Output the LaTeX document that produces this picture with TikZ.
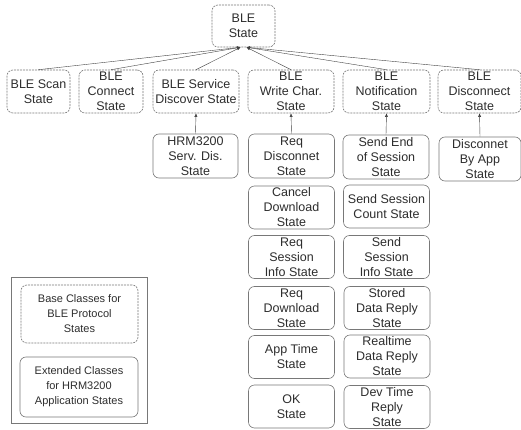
\documentclass[tikz,border=0pt]{standalone}
\usepackage{fontspec}
\setmainfont{Liberation Sans}
\usetikzlibrary{arrows.meta}
\definecolor{boxgray}{RGB}{120,120,120}
\definecolor{txtgray}{RGB}{45,45,45}
\tikzset{every node/.style={align=center, text=txtgray, inner sep=0pt, font=\fontsize{12.5}{15}\selectfont},
  base/.style={draw=boxgray, line width=0.6pt, dash pattern=on 2pt off 1pt, rounded corners=6pt},
  ext/.style={draw=boxgray, line width=0.6pt, rounded corners=6pt},
  inh/.style={draw=black!75, -{Latex[length=3.5pt,width=3pt]}}}

\begin{document}
\begin{tikzpicture}[x=1pt,y=-1pt]
  \useasboundingbox (0,0) rectangle (521,430);
  \node[base, minimum width=63pt, minimum height=42pt] (ble) at (243.5,26) {BLE\\State};
  \coordinate (jl) at ([xshift=-3pt]ble.south);
  \coordinate (jr) at ([xshift=3pt]ble.south);

  \node[base, minimum width=63pt, minimum height=43pt] (scan) at (38.5,91.5) {BLE Scan\\State};
  \node[base, minimum width=64pt, minimum height=43pt] (connect) at (111,91.5) {BLE\\Connect\\State};
  \node[base, minimum width=86pt, minimum height=43pt] (service) at (196,91.5) {BLE Service\\Discover State};
  \node[base, minimum width=86pt, minimum height=43pt] (write) at (291,91.5) {BLE\\Write Char.\\State};
  \node[base, minimum width=87pt, minimum height=43pt] (notif) at (386.5,91.5) {BLE\\Notification\\State};
  \node[base, minimum width=83pt, minimum height=43pt] (disc) at (479.5,91.5) {BLE\\Disconnect\\State};

  \draw[inh] (scan.north) -- (jl);
  \draw[inh] (connect.north) -- (jl);
  \draw[inh] (service.north) -- (jl);
  \draw[inh] (write.north) -- (jr);
  \draw[inh] (notif.north) -- (jr);
  \draw[inh] (disc.north) -- (jr);

  \node[ext, minimum width=85pt, minimum height=44pt] (hrm) at (195.5,156) {HRM3200\\Serv. Dis.\\State};
  \draw[inh] (hrm.north) -- (service.south);

  \node[ext, minimum width=86pt, minimum height=44pt] (reqdis) at (291.5,156) {Req\\Disconnet\\State};
  \node[ext, minimum width=86pt, minimum height=43pt] (cancel) at (291.5,207.5) {Cancel\\Download\\State};
  \node[ext, minimum width=86pt, minimum height=43pt] (reqses) at (291.5,257) {Req\\Session\\Info State};
  \node[ext, minimum width=86pt, minimum height=43pt] (reqdown) at (291.5,308) {Req\\Download\\State};
  \node[ext, minimum width=86pt, minimum height=43pt] (apptime) at (291.5,357) {App Time\\State};
  \node[ext, minimum width=86pt, minimum height=43pt] (ok) at (291.5,406.5) {OK\\State};
  \draw[inh] (reqdis.north) -- (write.south);

  \node[ext, minimum width=86pt, minimum height=44pt] (sendend) at (386,157) {Send End\\of Session\\State};
  \node[ext, minimum width=86pt, minimum height=43pt] (sendcnt) at (386.5,206.5) {Send Session\\Count State};
  \node[ext, minimum width=86pt, minimum height=43pt] (sendinfo) at (386.5,257) {Send\\Session\\Info State};
  \node[ext, minimum width=86pt, minimum height=43pt] (stored) at (387,308) {Stored\\Data Reply\\State};
  \node[ext, minimum width=86pt, minimum height=43pt] (realtime) at (387,356.5) {Realtime\\Data Reply\\State};
  \node[ext, minimum width=86pt, minimum height=43pt] (devtime) at (387,407) {Dev Time\\Reply\\State};
  \draw[inh] (sendend.north) -- (notif.south);

  \node[ext, minimum width=82pt, minimum height=44pt] (byapp) at (480,159) {Disconnet\\By App\\State};
  \draw[inh] (byapp.north) -- (disc.south);

  \node[draw=boxgray, minimum width=136pt, minimum height=146pt] (legend) at (79,350) {};
  \node[base, minimum width=117pt, minimum height=58pt, font=\fontsize{11}{15}\selectfont] (lbase) at (79.5,314) {Base Classes for\\BLE Protocol\\States};
  \node[ext, minimum width=118pt, minimum height=60pt, font=\fontsize{11}{15}\selectfont] (lext) at (79,387) {Extended Classes\\for HRM3200\\Application States};
\end{tikzpicture}
\end{document}
